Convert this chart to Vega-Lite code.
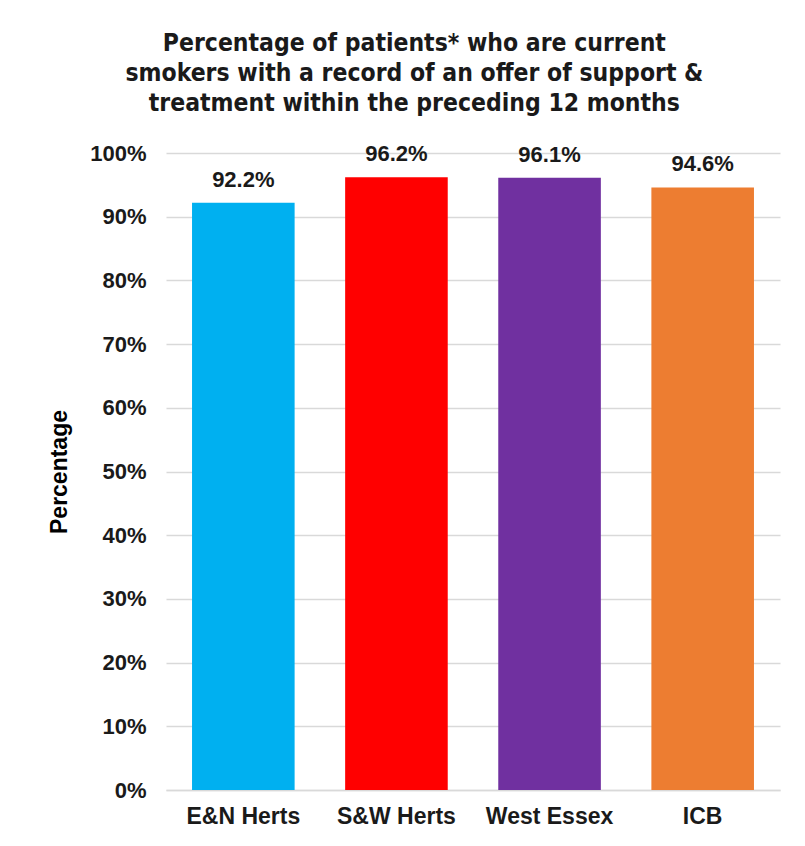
{
  "$schema": "https://vega.github.io/schema/vega-lite/v6.json",
  "autosize": "none",
  "width": 614,
  "height": 637,
  "padding": {"left": 166, "top": 153, "right": 25, "bottom": 56},
  "background": "white",
  "title": {
    "text": ["Percentage of patients* who are current", "smokers with a record of an offer of support &", "treatment within the preceding 12 months"],
    "font": "DejaVu Sans Condensed",
    "fontSize": 24.5,
    "fontWeight": "bold",
    "color": "#1a1a1a",
    "lineHeight": 30,
    "anchor": "middle",
    "frame": "bounds",
    "offset": 26
  },
  "data": {
    "values": [
      {"area": "E&N Herts", "value": 92.2, "label": "92.2%"},
      {"area": "S&W Herts", "value": 96.2, "label": "96.2%"},
      {"area": "West Essex", "value": 96.1, "label": "96.1%"},
      {"area": "ICB", "value": 94.6, "label": "94.6%"}
    ]
  },
  "encoding": {
    "x": {
      "field": "area", "type": "nominal", "sort": null,
      "scale": {"paddingInner": 0.33, "paddingOuter": 0.17},
      "axis": {"title": null, "labelAngle": 0, "labelFont": "Liberation Sans", "labelFontSize": 23, "labelFontWeight": "bold", "labelColor": "#1a1a1a", "labelPadding": 15, "ticks": false, "domain": true, "domainColor": "#d9d9d9", "domainWidth": 1.5, "grid": false}
    },
    "y": {
      "field": "value", "type": "quantitative",
      "scale": {"domain": [0, 100]},
      "axis": {"title": "Percentage", "titleFont": "Liberation Sans", "titleFontSize": 23, "titleFontWeight": "bold", "titleColor": "#000000", "titlePadding": 18, "values": [0,10,20,30,40,50,60,70,80,90,100], "labelExpr": "datum.value + '%'", "labelFont": "Liberation Sans", "labelFontSize": 22, "labelFontWeight": "bold", "labelColor": "#1a1a1a", "labelPadding": 20, "ticks": false, "domain": false, "grid": true, "gridColor": "#d9d9d9", "gridWidth": 1.5}
    }
  },
  "layer": [
    {
      "mark": {"type": "bar"},
      "encoding": {
        "color": {"field": "area", "type": "nominal", "legend": null, "sort": null,
          "scale": {"domain": ["E&N Herts", "S&W Herts", "West Essex", "ICB"], "range": ["#00b0f0", "#ff0000", "#7030a0", "#ed7d31"]}}
      }
    },
    {
      "mark": {"type": "text", "dy": -23, "font": "Liberation Sans", "fontSize": 22, "fontWeight": "bold", "color": "#1a1a1a"},
      "encoding": {"text": {"field": "label"}}
    }
  ],
  "config": {"view": {"stroke": null}}
}
